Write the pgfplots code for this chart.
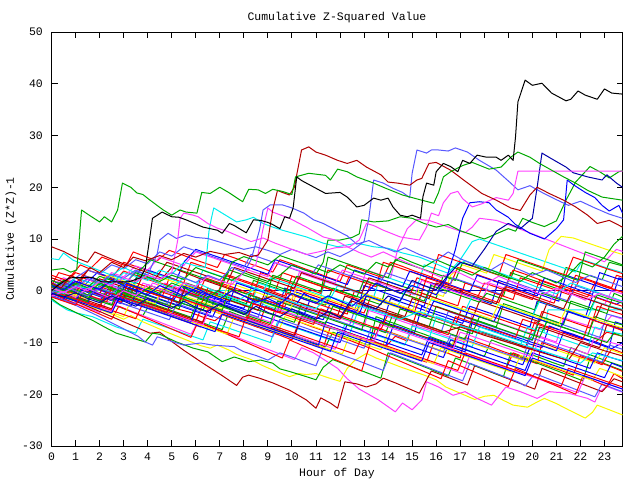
\documentclass[border=0pt]{standalone}
\usepackage{pgfplots}
\pgfplotsset{compat=1.18}
\usepackage{fontspec}
\setmainfont{Liberation Mono}
\definecolor{cR}{HTML}{FF0000}
\definecolor{cG}{HTML}{00A800}
\definecolor{cB}{HTML}{0000FF}
\definecolor{cDB}{HTML}{0000A8}
\definecolor{cLB}{HTML}{5858FF}
\definecolor{cM}{HTML}{FF40FF}
\definecolor{cC}{HTML}{00EEEE}
\definecolor{cY}{HTML}{F8F800}
\definecolor{cDR}{HTML}{B00000}
\begin{document}
\fontsize{11.5}{13}\selectfont
\begin{tikzpicture}
\path[use as bounding box] (-51.5bp,-34bp) rectangle (588.5bp,446bp);
\begin{axis}[
  at={(0,0)}, anchor=south west,
  width=571bp, height=414bp, scale only axis,
  xmin=0, xmax=23.75, ymin=-30, ymax=50,
  xtick={0,...,23}, ytick={-30,-20,...,50},
  tick align=inside, major tick length=6bp,
  tick style={black, line width=0.9bp},
  axis line style={black, line width=0.9bp},
  /pgf/number format/assume math mode=true,
  tick label style={font=\fontsize{11.5}{13}\selectfont},
  label style={font=\fontsize{11.5}{13}\selectfont},
  title style={font=\fontsize{11.5}{13}\selectfont, at={(axis description cs:0.5,1.0133)}, anchor=base},
  xticklabel style={anchor=base, yshift=-15bp},
  yticklabel style={anchor=east, inner sep=0pt, xshift=-8.5bp},
  xlabel style={at={(axis description cs:0.5,-0.0725)}, anchor=base},
  ylabel style={at={(axis description cs:-0.0657,0.5)}, anchor=base},
  title={Cumulative Z-Squared Value},
  xlabel={Hour of Day},
  ylabel={Cumulative (Z*Z)-1},
  every axis plot/.append style={line width=1bp, line join=round},
]
% flat lines
\addplot[cDB] coordinates {(0,0)(23.75,0)};
\addplot[cC] coordinates {(0,0)(7.5,0)};
% ---------- bundle ----------
\addplot[cR] coordinates {(0,0)(0.5,-0.8)(1,-1.4)(1.5,-2.3)(2,-2.9)(2.5,-3.8)(2.8,0.5)(3.3,-0.4)(3.8,-1.1)(4.3,-2)(4.8,-2.7)(5.3,-3.6)(5.8,-4.2)(6.3,-5.1)(6.8,-5.8)(7.1,-4.6)(7.6,-5.5)(8.1,-6.2)(8.6,-7.1)(8.9,-3)(9.4,-3.9)(9.9,-4.5)(10.4,-5.4)(10.9,-6.1)(11.4,-7)(11.9,-7.6)(12.4,-8.5)(12.9,-9.2)(13.4,-10.1)(13.9,-10.8)(14.3,-8.8)(14.8,-9.7)(15.2,-4)(15.7,-4.9)(16.2,-5.5)(16.7,-6.4)(17.2,-7.1)(17.7,-8)(18.2,-8.6)(18.7,-9.5)(19.2,-10.2)(19.7,-11.1)(20.1,-6)(20.6,-6.9)(21.1,-7.5)(21.6,-8.4)(22.1,-9.1)(22.6,-10)(23.1,-8)(23.75,-8.8)};
\addplot[cB] coordinates {(0,0.5)(0.4,-0.2)(0.8,1.5)(1.3,0.7)(1.8,-0.1)(2.3,2.6)(2.8,1.8)(3.3,0.9)(3.8,0.2)(4.3,-0.7)(4.8,-1.5)(5.3,-2.4)(5.5,0.6)(6,-0.2)(6.5,-1.1)(7,-1.8)(7.5,-2.7)(8,-3.4)(8.3,-0.8)(8.8,-1.7)(9.3,-2.4)(9.8,-3.3)(10.3,-4)(10.8,-4.9)(11.3,-5.6)(11.6,-2.4)(12.1,-3.3)(12.6,-4)(13.1,-4.9)(13.6,-5.6)(14.1,-6.5)(14.6,-7.2)(15.1,-8.1)(15.4,-3)(15.9,-3.9)(16.4,-4.6)(16.9,-5.5)(17.4,-6.2)(17.9,-7.1)(18.4,-7.8)(18.9,-8.7)(19.4,-9.4)(19.9,-10.3)(20.4,-11)(20.7,-6.8)(21.2,-7.7)(21.7,-8.4)(22.2,-9.3)(22.7,-10)(23.2,-10.9)(23.45,-6)(23.75,-6.5)};
\addplot[cG] coordinates {(0,-0.5)(0.5,-1.3)(1,-2)(1.3,-0.5)(1.8,-1.4)(2.3,-2.3)(2.8,-3.1)(3.3,-4)(3.8,-4.8)(4.1,-2.5)(4.6,-3.4)(5.1,-4.2)(5.6,-5)(6.1,-5.9)(6.6,-6.7)(7.1,-7.5)(7.4,-4)(7.9,-4.9)(8.4,-5.7)(8.9,-6.6)(9.4,-7.4)(9.9,-8.3)(10.4,-9.1)(10.9,-10)(11.4,-10.8)(11.7,-8)(12.2,-8.9)(12.7,-9.7)(13.2,-10.6)(13.5,-5)(14,-5.9)(14.5,-6.7)(15,-7.6)(15.5,-8.4)(16,-9.3)(16.5,-10.1)(17,-11)(17.5,-11.8)(18,-12.7)(18.3,-9.5)(18.8,-10.4)(19.3,-11.2)(19.8,-12.1)(20.3,-12.9)(20.8,-13.8)(21.3,-14.6)(21.6,-11)(22.1,-11.9)(22.6,-12.7)(23.1,-13.6)(23.75,-14.6)};
\addplot[cR] coordinates {(0,-1)(0.5,-1.8)(1,-2.6)(1.2,1.5)(1.7,0.7)(2.2,-0.2)(2.7,-1)(3.2,-1.9)(3.7,-2.7)(4.2,-3.6)(4.7,-4.4)(5.2,-5.3)(5.7,-6.1)(6.2,-7)(6.5,-3.5)(7,-4.4)(7.5,-5.2)(8,-6.1)(8.5,-6.9)(9,-7.8)(9.5,-8.6)(10,-9.5)(10.3,-6)(10.8,-6.9)(11.3,-7.7)(11.8,-8.6)(12.3,-9.4)(12.8,-10.3)(13.2,-11)(13.5,-7)(14,-7.9)(14.5,-8.7)(15,-9.6)(15.5,-10.4)(16,-11.3)(16.5,-12.1)(17,-13)(17.2,-9)(17.7,-9.9)(18.2,-10.7)(18.7,-11.6)(19.2,-12.4)(19.7,-13.3)(20.2,-14.1)(20.4,-10)(20.9,-10.9)(21.4,-11.7)(21.9,-12.6)(22.4,-13.4)(22.9,-14.3)(23.3,-11.2)(23.75,-12)};
\addplot[cM] coordinates {(0,0.3)(0.5,-0.5)(1,-1.2)(1.5,-2)(1.8,1.2)(2.3,0.4)(2.8,-0.3)(3.3,-1.1)(3.8,-1.9)(4.2,1.5)(4.7,0.7)(5.2,0)(5.7,-0.8)(6.2,-1.6)(6.7,-2.3)(7.2,-3.1)(7.7,-3.9)(8.2,-4.6)(8.7,-5.4)(9.2,-6.2)(9.5,-1.5)(10,-2.3)(10.5,-3)(11,-3.8)(11.5,-4.6)(12,-5.3)(12.5,-6.1)(13,-6.9)(13.2,-3.8)(13.7,-4.6)(14.2,-5.3)(14.7,-6.1)(15.2,-6.9)(15.7,-7.6)(16.2,-8.4)(16.7,-9.2)(17.2,-9.9)(17.5,-4.5)(18,-5.3)(18.5,-6)(19,-6.8)(19.5,-7.6)(20,-8.3)(20.5,-9.1)(21,-9.9)(21.3,-5.2)(21.8,-6)(22.3,-6.7)(22.8,-7.5)(23.3,-4.8)(23.75,-5.5)};
\addplot[cC] coordinates {(0,-1.8)(0.65,-3.7)(1.05,-4.3)(1.7,-5)(2.2,-6)(2.7,-7)(3.1,-7.6)(3.5,-8.2)(3.8,-5.5)(4.3,-6.3)(4.8,-7.1)(5.3,-7.9)(5.8,-8.7)(6.3,-9.5)(6.6,-6)(7.1,-6.8)(7.6,-7.6)(8.1,-8.4)(8.6,-9.2)(9.1,-10)(9.4,-6)(9.9,-6.8)(10.4,-7.6)(10.9,-8.4)(11.4,-9.2)(11.9,-10)(12.2,-6.5)(12.7,-7.3)(13.2,-8.1)(13.7,-8.9)(14.2,-9.7)(14.7,-10.5)(15,-6.8)(15.5,-7.6)(16,-8.4)(16.5,-9.2)(17,-10)(17.5,-10.8)(17.8,-7)(18.3,-7.8)(18.8,-8.6)(19.3,-9.4)(19.8,-10.2)(20.2,-7)(20.5,-7.8)(20.65,-3.7)(23.75,-3.7)};
\addplot[cY] coordinates {(0,0)(0.5,-1)(1,-2)(1.5,-3)(2,-3.6)(2.5,-4.5)(3,-5.5)(3.3,-4.8)(3.8,-6)(4.3,-7)(4.8,-8)(5.5,-9.3)(6.2,-10.6)(6.6,-11.1)(6.9,-10.5)(7.4,-11.5)(7.7,-12.3)(8.3,-13.3)(8.8,-14.5)(9.2,-15.3)(9.9,-16.6)(10.3,-16)(10.6,-16.2)(11,-16)(11.5,-16.8)(12,-17.5)(12.3,-15)(12.6,-13.5)(13.1,-12.1)(13.5,-13)(14,-13.8)(14.5,-14.7)(15,-15.5)(15.5,-16.3)(16,-17.2)(16.4,-18.6)(17,-19.8)(17.6,-21)(18,-20.4)(18.4,-20.2)(18.8,-21.2)(19.2,-22.1)(19.8,-22.5)(20.2,-21.5)(20.5,-20.8)(21,-21.8)(21.5,-23)(22.2,-24.6)(22.5,-23.5)(22.7,-22.1)(23.2,-23)(23.75,-24)};
\addplot[cM] coordinates {(0,-0.5)(0.5,-1.5)(1,-2.4)(1.5,-3.3)(2,-4.2)(2.3,-2)(2.8,-3)(3.3,-3.9)(3.8,-4.8)(4.3,-5.7)(4.8,-6.6)(5.3,-7.5)(5.8,-8.4)(6.1,-6)(6.6,-7)(7.1,-7.9)(7.6,-8.8)(8.1,-9.7)(8.6,-10.6)(9.1,-11.5)(9.6,-12.4)(10.1,-13.3)(10.4,-11)(10.9,-12)(11.4,-13.5)(11.9,-15)(12.3,-17)(12.8,-19)(13.6,-21.1)(14.3,-23.4)(14.6,-21.7)(15,-23)(15.4,-21.1)(15.6,-17.6)(16.1,-18.6)(16.7,-20.2)(17.2,-19.5)(17.7,-20.8)(18.3,-22.1)(18.9,-18.6)(19.5,-19.5)(20.2,-20.8)(20.7,-19.5)(21.5,-19.8)(22.3,-20.8)(22.6,-21.5)(22.8,-19.5)(23.1,-18.5)(23.5,-19.2)(23.75,-19.6)};
\addplot[cDR] coordinates {(0,0)(0.5,-1)(1,-2)(1.5,-3)(2,-4)(2.5,-5)(3,-6)(3.5,-7)(4.1,-8.2)(4.5,-8)(5,-9.8)(5.5,-11.5)(6.3,-14)(7.1,-16.4)(7.7,-18.3)(7.95,-16.7)(8.2,-16.3)(8.65,-16.9)(9.2,-17.8)(9.9,-19.2)(10.6,-21.1)(11,-22.7)(11.2,-20.7)(11.6,-21.7)(11.9,-22.7)(12.2,-17.6)(12.7,-18)(13.1,-18.6)(13.5,-18)(13.8,-16.9)(14.3,-17.8)(14.8,-18.8)(15.3,-19.8)(15.8,-15.5)(16.3,-16.4)(16.8,-17.3)(17.3,-18.2)(17.6,-14.5)(18.1,-15.4)(18.6,-16.3)(19.1,-17.2)(19.6,-18.1)(20.1,-19)(20.4,-15)(20.9,-15.9)(21.4,-16.8)(21.9,-17.7)(22.4,-18.6)(22.9,-19.5)(23.4,-17)(23.75,-17.6)};
\addplot[cG] coordinates {(0,-1.5)(0.35,-2.7)(1.05,-4.3)(1.7,-5.7)(2.2,-7)(2.7,-8.2)(3.4,-9.2)(3.9,-9.9)(4.2,-8.2)(4.5,-8.4)(5.2,-9.9)(5.9,-11.1)(6.5,-11.8)(7.1,-13.7)(7.6,-12.8)(8.2,-13.7)(8.7,-13.4)(9.2,-14)(9.5,-15.1)(9.9,-15.6)(10.6,-16.6)(11,-17.2)(11.3,-14.8)(11.7,-13.3)(12.2,-14.2)(12.7,-15.1)(13.2,-16)(13.7,-16.9)(14,-12)(14.5,-12.9)(15,-13.8)(15.5,-14.7)(16,-15.6)(16.5,-16.5)(16.8,-13)(17.3,-13.9)(17.8,-14.8)(18.3,-15.7)(18.8,-16.6)(19.1,-12)(19.6,-12.9)(20.1,-13.8)(20.6,-14.7)(21.1,-15.6)(21.6,-16.5)(22.1,-17.4)(22.4,-13)(22.9,-13.9)(23.4,-14.8)(23.75,-15.4)};
\addplot[cLB] coordinates {(0,-0.8)(0.5,-1.8)(1,-2.8)(1.5,-3.9)(2,-5)(2.5,-6.2)(3.1,-7.6)(3.6,-8.8)(3.9,-9.9)(4.2,-10.5)(4.4,-8.9)(4.8,-9.5)(5.5,-10.5)(6.2,-10.1)(6.7,-10.5)(7.6,-10.8)(8,-11.8)(8.5,-12.5)(9,-13.4)(9.5,-12)(10,-12.8)(10.5,-13.7)(11,-14.5)(11.3,-11)(11.8,-11.9)(12.3,-12.8)(12.8,-13.6)(13.3,-14.5)(13.8,-15.4)(14.1,-12)(14.6,-12.9)(15.1,-13.8)(15.6,-14.7)(16.1,-15.6)(16.6,-16.5)(17.1,-17.4)(17.4,-14)(17.9,-14.9)(18.4,-15.8)(18.9,-16.7)(19.4,-17.6)(19.7,-18.4)(20.1,-16)(20.6,-16.9)(21.1,-17.8)(21.6,-18.7)(22.1,-19.6)(22.6,-20.5)(22.9,-18)(23.4,-18.9)(23.75,-19.5)};
\addplot[cR] coordinates {(0,1.5)(0.5,0.7)(1,-0.2)(1.5,-1)(2,0.8)(2.5,0)(3,-0.9)(3.5,-1.7)(4,-2.6)(4.5,-3.4)(5,-4.3)(5.5,-5.1)(6,-6)(6.3,-2.5)(6.8,-3.4)(7.3,-4.2)(7.8,-5.1)(8.3,-5.9)(8.8,-6.8)(9.3,-7.6)(9.8,-8.5)(10.3,-9.3)(10.8,-10.2)(11.3,-11)(11.6,-7)(12.1,-7.9)(12.6,-8.7)(13.1,-9.6)(13.6,-10.4)(14.1,-11.3)(14.6,-12.1)(15.1,-13)(15.6,-13.8)(15.9,-10)(16.4,-10.9)(16.9,-11.7)(17.4,-12.6)(17.9,-13.4)(18.4,-14.3)(18.9,-15.1)(19.2,-12)(19.7,-12.9)(20.2,-13.7)(20.7,-14.6)(21.2,-15.4)(21.7,-16.3)(22,-12.5)(22.5,-13.4)(23,-14.2)(23.5,-15.1)(23.75,-15.6)};
\addplot[cB] coordinates {(0,-0.8)(0.5,0.5)(1,-0.3)(1.5,-1.1)(2,-2)(2.4,0.8)(2.9,0)(3.4,-0.8)(3.9,-1.6)(4.4,-2.4)(4.9,-3.2)(5.2,0.5)(5.7,-0.3)(6.2,-1.1)(6.7,-1.9)(7.2,-2.7)(7.7,-3.5)(8.2,-4.3)(8.5,-1.5)(9,-2.3)(9.5,-3.1)(10,-3.9)(10.5,-4.7)(10.8,-1.2)(11.3,-2)(11.8,-2.8)(12.3,-3.6)(12.8,-4.4)(13.3,-5.2)(13.8,-6)(14.1,-1.5)(14.6,-2.3)(15.1,-3.1)(15.6,-3.9)(16.1,-4.7)(16.6,-5.5)(17.1,-6.3)(17.4,-3)(17.9,-3.8)(18.4,-4.6)(18.9,-5.4)(19.4,-6.2)(19.9,-7)(20.2,-2)(20.7,-2.8)(21.2,-3.6)(21.7,-4.4)(22.2,-5.2)(22.5,-1)(23,-1.8)(23.5,-2.6)(23.75,-2)};
\addplot[cY] coordinates {(0,0.8)(0.5,0)(1,-0.8)(1.5,-1.6)(2,0.5)(2.5,-0.3)(3,-1.1)(3.5,-1.9)(4,-2.7)(4.5,-3.5)(5,-4.3)(5.4,-1.8)(5.9,-2.6)(6.4,-3.4)(6.9,-4.2)(7.4,-5)(7.9,-5.8)(8.4,-6.6)(8.9,-7.4)(9.4,-8.2)(9.7,-5)(10.2,-5.8)(10.7,-6.6)(11.2,-7.4)(11.7,-8.2)(12.2,-9)(12.7,-9.8)(13.2,-10.6)(13.7,-11.4)(14,-8)(14.5,-8.8)(15,-9.6)(15.5,-10.4)(16,-11.2)(16.5,-12)(16.8,-9)(17.3,-9.8)(17.8,-10.6)(18.3,-11.4)(18.8,-12.2)(19.3,-13)(19.8,-13.8)(20.1,-10)(20.6,-10.8)(21.1,-11.6)(21.6,-12.4)(22.1,-13.2)(22.6,-14)(23,-11)(23.5,-11.8)(23.75,-12.2)};
\addplot[cR] coordinates {(0,2)(0.5,1.2)(1,3.5)(1.5,2.7)(2,1.9)(2.5,1.1)(3,3.8)(3.5,3)(4,2.2)(4.5,1.4)(5,0.6)(5.5,-0.2)(6,-1)(6.2,2.5)(6.7,1.7)(7.2,0.9)(7.7,0.1)(8.2,-0.7)(8.7,-1.5)(9.2,-2.3)(9.7,-3.1)(10,0.5)(10.5,-0.3)(11,-1.1)(11.5,-1.9)(12,-2.7)(12.5,-3.5)(13,-4.3)(13.3,-1)(13.8,-1.8)(14.3,-2.6)(14.8,-3.4)(15.3,-4.2)(15.8,-5)(16.3,-5.8)(16.8,-6.6)(17.1,-3)(17.6,-3.8)(18.1,-4.6)(18.6,-5.4)(19.1,-6.2)(19.6,-7)(20.1,-7.8)(20.4,-4)(20.9,-4.8)(21.4,-5.6)(21.9,-6.4)(22.4,-7.2)(22.7,-3)(23.2,-3.8)(23.75,-4.6)};
\addplot[cG] coordinates {(0,-0.3)(0.5,-1.1)(1,0.5)(1.5,-0.3)(2,-1.1)(2.5,-1.9)(2.8,1)(3.3,0.2)(3.8,-0.6)(4.3,-1.4)(4.8,-2.2)(5.3,-3)(5.6,1.5)(6.1,0.7)(6.6,-0.1)(7.1,-0.9)(7.6,-1.7)(8.1,-2.5)(8.4,2)(8.9,1.2)(9.4,0.4)(9.9,-0.4)(10.4,-1.2)(10.9,-2)(11.4,-2.8)(11.7,0.5)(12.2,-0.3)(12.7,-1.1)(13.2,-1.9)(13.7,-2.7)(14,1.8)(14.5,1)(15,0.2)(15.5,-0.6)(16,-1.4)(16.3,3)(16.8,2.2)(17.3,1.4)(17.8,0.6)(18.3,-0.2)(18.8,-1)(19.1,3.5)(19.6,2.7)(20.1,1.9)(20.6,1.1)(21.1,0.3)(21.4,4.5)(21.9,3.7)(22.4,2.9)(22.9,2.1)(23.2,5.5)(23.75,4.8)};
\addplot[cB] coordinates {(0,0)(0.5,-0.8)(1,-1.6)(1.5,-2.4)(2,-3.2)(2.3,-0.5)(2.8,-1.3)(3.3,-2.1)(3.8,-2.9)(4.3,-3.7)(4.8,-4.5)(5.3,-5.3)(5.8,-6.1)(6.1,-2.5)(6.6,-3.3)(7.1,-4.1)(7.6,-4.9)(8.1,-5.7)(8.6,-6.5)(9.1,-7.3)(9.6,-8.1)(10.1,-8.9)(10.4,-5)(10.9,-5.8)(11.4,-6.6)(11.9,-7.4)(12.4,-8.2)(12.9,-9)(13.4,-9.8)(13.9,-10.6)(14.2,-7)(14.7,-7.8)(15.2,-8.6)(15.7,-9.4)(16.2,-10.2)(16.7,-11)(17.2,-11.8)(17.5,-6)(18,-6.8)(18.5,-7.6)(19,-8.4)(19.5,-9.2)(20,-10)(20.5,-10.8)(21,-11.6)(21.3,-8)(21.8,-8.8)(22.3,-9.6)(22.8,-10.4)(23.3,-11.2)(23.75,-10)};
\addplot[cM] coordinates {(0,1)(0.5,2.5)(1,1.7)(1.5,0.9)(2,0.1)(2.5,-0.7)(3,-1.5)(3.5,-2.3)(3.8,1.5)(4.3,0.7)(4.8,-0.1)(5.3,-0.9)(5.8,-1.7)(6.3,-2.5)(6.8,-3.3)(7.3,-4.1)(7.8,-4.9)(8.3,-5.7)(8.8,-6.5)(9.3,-7.3)(9.8,-8.1)(10.3,-8.9)(10.8,-9.7)(11.3,-10.5)(11.8,-11.3)(12.1,-8)(12.6,-8.8)(13.1,-9.6)(13.6,-10.4)(14.1,-11.2)(14.6,-12)(15.1,-12.8)(15.6,-13.6)(16.1,-14.4)(16.6,-15.2)(17.1,-16)(17.4,-12.5)(17.9,-13.3)(18.4,-14.1)(18.9,-14.9)(19.4,-15.7)(19.9,-16.5)(20.4,-17.3)(20.9,-18.1)(21.4,-18.9)(21.9,-19.7)(22.2,-16.5)(22.7,-17.3)(23.2,-18.1)(23.75,-19)};
\addplot[cC] coordinates {(0,0.5)(0.5,-0.3)(1,-1.1)(1.5,-1.9)(1.8,0.8)(2.3,0)(2.8,-0.8)(3.3,-1.6)(3.8,-2.4)(4.3,-3.2)(4.6,0)(5.1,-0.8)(5.6,-1.6)(6.1,-2.4)(6.6,-3.2)(7.1,-4)(7.6,-4.8)(8.1,-5.6)(8.4,-2)(8.9,-2.8)(9.4,-3.6)(9.9,-4.4)(10.4,-5.2)(10.9,-6)(11.4,-6.8)(11.9,-7.6)(12.4,-8.4)(12.7,-4.5)(13.2,-5.3)(13.7,-6.1)(14.2,-6.9)(14.7,-7.7)(15.2,-8.5)(15.7,-9.3)(16,-5)(16.5,-5.8)(17,-6.6)(17.5,-7.4)(18,-8.2)(18.5,-9)(19,-9.8)(19.5,-10.6)(19.8,-7)(20.3,-7.8)(20.8,-8.6)(21.3,-9.4)(21.8,-10.2)(22.3,-11)(22.6,-7)(23.1,-7.8)(23.75,-8.4)};
\addplot[cR] coordinates {(0,-0.5)(0.5,-1.5)(1,-2.5)(1.5,-3.5)(2,-4.5)(2.5,-5.5)(2.8,-3)(3.3,-4)(3.8,-5)(4.3,-6)(4.8,-7)(5.3,-8)(5.8,-9)(6.1,-6)(6.6,-7)(7.1,-8)(7.6,-9)(8.1,-10)(8.6,-11)(9.1,-12)(9.6,-13)(9.9,-9.5)(10.4,-10.5)(10.9,-11.5)(11.4,-12.5)(11.9,-13.5)(12.4,-14.5)(12.9,-15.5)(13.2,-11)(13.7,-12)(14.2,-13)(14.7,-14)(15.2,-15)(15.7,-16)(16.2,-17)(16.5,-13.5)(17,-14.5)(17.5,-15.5)(18,-16.5)(18.5,-17.5)(19,-18.5)(19.3,-15)(19.8,-16)(20.3,-17)(20.8,-18)(21.3,-19)(21.8,-20)(22.1,-16.5)(22.6,-17.5)(23.1,-18.5)(23.4,-16)(23.75,-17)};
\addplot[cB] coordinates {(0,0.3)(0.4,1.5)(0.9,0.7)(1.4,-0.1)(1.9,-0.9)(2.4,-1.7)(2.9,-2.5)(3.2,0.5)(3.7,-0.3)(4.2,-1.1)(4.7,-1.9)(5.2,-2.7)(5.7,-3.5)(6.2,-4.3)(6.7,-5.1)(7,-2)(7.5,-2.8)(8,-3.6)(8.5,-4.4)(9,-5.2)(9.5,-6)(10,-6.8)(10.5,-7.6)(11,-8.4)(11.5,-9.2)(12,-10)(12.3,-6.5)(12.8,-7.3)(13.3,-8.1)(13.8,-8.9)(14.3,-9.7)(14.8,-10.5)(15.3,-11.3)(15.8,-12.1)(16.3,-12.9)(16.6,-9.5)(17.1,-10.3)(17.6,-11.1)(18.1,-11.9)(18.6,-12.7)(19.1,-13.5)(19.6,-14.3)(19.9,-11)(20.4,-11.8)(20.9,-12.6)(21.4,-13.4)(21.9,-14.2)(22.4,-15)(22.7,-12)(23.2,-12.8)(23.75,-13.6)};
\addplot[cLB] coordinates {(0,2)(0.5,1.2)(1,0.4)(1.3,3)(1.8,2.2)(2.3,1.4)(2.8,0.6)(3.3,-0.2)(3.8,-1)(4.3,-1.8)(4.8,-2.6)(5.1,0.5)(5.6,-0.3)(6.1,-1.1)(6.6,-1.9)(7.1,-2.7)(7.6,-3.5)(8.1,-4.3)(8.6,-5.1)(8.9,-1)(9.4,-1.8)(9.9,-2.6)(10.4,-3.4)(10.9,-4.2)(11.4,-5)(11.9,-5.8)(12.4,-6.6)(12.7,-2.5)(13.2,-3.3)(13.7,-4.1)(14.2,-4.9)(14.7,-5.7)(15.2,-6.5)(15.7,-7.3)(16.2,-8.1)(16.5,-4)(17,-4.8)(17.5,-5.6)(18,-6.4)(18.5,-7.2)(19,-8)(19.5,-8.8)(20,-9.6)(20.3,-5)(20.8,-5.8)(21.3,-6.6)(21.8,-7.4)(22.3,-8.2)(22.8,-9)(23.1,-4.5)(23.75,-5.3)};
\addplot[cG] coordinates {(0,0)(0.5,-0.8)(1,-1.6)(1.5,-2.4)(2,-3.2)(2.3,0.5)(2.8,-0.3)(3.3,-1.1)(3.8,-1.9)(4.3,-2.7)(4.8,-3.5)(5.3,-4.3)(5.8,-5.1)(6.1,-1.5)(6.6,-2.3)(7.1,-3.1)(7.6,-3.9)(8.1,-4.7)(8.6,-5.5)(9.1,-6.3)(9.4,-2)(9.9,-2.8)(10.4,-3.6)(10.9,-4.4)(11.4,-5.2)(11.9,-6)(12.4,-6.8)(12.9,-7.6)(13.2,-3)(13.7,-3.8)(14.2,-4.6)(14.7,-5.4)(15.2,-6.2)(15.7,-7)(16,-3)(16.5,-3.8)(17,-4.6)(17.5,-5.4)(18,-6.2)(18.5,-7)(18.8,-2.5)(19.3,-3.3)(19.8,-4.1)(20.3,-4.9)(20.8,-5.7)(21.3,-6.5)(21.6,-2)(22.1,-2.8)(22.6,-3.6)(23.1,-4.4)(23.4,-0.5)(23.75,-1.2)};
\addplot[cR] coordinates {(0,3)(0.5,2.2)(1,1.4)(1.5,4)(2,3.2)(2.5,2.4)(3,5.5)(3.5,4.7)(4,3.9)(4.5,3.1)(5,2.3)(5.5,1.5)(5.8,5.5)(6.3,4.7)(6.8,3.9)(7.3,3.1)(7.8,2.3)(8.3,1.5)(8.8,0.7)(9.3,-0.1)(9.6,3.5)(10.1,2.7)(10.6,1.9)(11.1,1.1)(11.6,0.3)(12.1,-0.5)(12.4,3)(12.9,2.2)(13.4,1.4)(13.9,0.6)(14.4,-0.2)(14.9,-1)(15.2,2.5)(15.7,1.7)(16.2,0.9)(16.7,0.1)(17.2,-0.7)(17.7,-1.5)(18,1.5)(18.5,0.7)(19,-0.1)(19.5,-0.9)(20,-1.7)(20.3,2)(20.8,1.2)(21.3,0.4)(21.8,-0.4)(22.3,-1.2)(22.6,1.5)(23.1,0.7)(23.75,-0.2)};
\addplot[cDR] coordinates {(0,0.5)(0.5,-0.3)(1,-1.1)(1.5,-1.9)(2,-2.7)(2.5,-3.5)(2.8,-0.5)(3.3,-1.3)(3.8,-2.1)(4.3,-2.9)(4.8,-3.7)(5.3,-4.5)(5.8,-5.3)(6.3,-6.1)(6.6,-3)(7.1,-3.8)(7.6,-4.6)(8.1,-5.4)(8.6,-6.2)(9.1,-7)(9.6,-7.8)(10.1,-8.6)(10.4,-5)(10.9,-5.8)(11.4,-6.6)(11.9,-7.4)(12.4,-8.2)(12.9,-9)(13.4,-9.8)(13.7,-6)(14.2,-6.8)(14.7,-7.6)(15.2,-8.4)(15.7,-9.2)(16.2,-10)(16.7,-10.8)(17,-6.5)(17.5,-7.3)(18,-8.1)(18.5,-8.9)(19,-9.7)(19.5,-10.5)(20,-11.3)(20.3,-7)(20.8,-7.8)(21.3,-8.6)(21.8,-9.4)(22.3,-10.2)(22.8,-11)(23.1,-6.5)(23.75,-7.3)};
\addplot[cB] coordinates {(0,-1)(0.5,-1.8)(0.8,1)(1.3,0.2)(1.8,-0.6)(2.3,-1.4)(2.8,-2.2)(3.3,-3)(3.6,0.5)(4.1,-0.3)(4.6,-1.1)(5.1,-1.9)(5.6,-2.7)(6.1,-3.5)(6.6,-4.3)(6.9,0)(7.4,-0.8)(7.9,-1.6)(8.4,-2.4)(8.9,-3.2)(9.4,-4)(9.7,0.5)(10.2,-0.3)(10.7,-1.1)(11.2,-1.9)(11.7,-2.7)(12.2,-3.5)(12.7,-4.3)(13,1)(13.5,0.2)(14,-0.6)(14.5,-1.4)(15,-2.2)(15.5,-3)(15.8,1.5)(16.3,0.7)(16.8,-0.1)(17.3,-0.9)(17.8,-1.7)(18.3,-2.5)(18.6,2)(19.1,1.2)(19.6,0.4)(20.1,-0.4)(20.6,-1.2)(21.1,-2)(21.4,3)(21.9,2.2)(22.4,1.4)(22.9,0.6)(23.4,-0.2)(23.6,2.5)(23.75,2.2)};
\addplot[cY] coordinates {(0,-0.2)(0.5,-1)(1,-1.8)(1.5,-2.6)(2,-3.4)(2.5,-4.2)(3,-5)(3.3,-2)(3.8,-2.8)(4.3,-3.6)(4.8,-4.4)(5.3,-5.2)(5.8,-6)(6.3,-6.8)(6.8,-7.6)(7.3,-8.4)(7.6,-5)(8.1,-5.8)(8.6,-6.6)(9.1,-7.4)(9.6,-8.2)(10.1,-9)(10.6,-9.8)(11.1,-10.6)(11.6,-11.4)(12.1,-12.2)(12.4,-8.5)(12.9,-9.3)(13.4,-10.1)(13.9,-10.9)(14.4,-11.7)(14.9,-12.5)(15.4,-13.3)(15.9,-14.1)(16.2,-11)(16.7,-11.8)(17.2,-12.6)(17.7,-13.4)(18.2,-14.2)(18.7,-15)(19.2,-15.8)(19.5,-12.5)(20,-13.3)(20.5,-14.1)(21,-14.9)(21.5,-15.7)(22,-16.5)(22.5,-17.3)(22.8,-15)(23.3,-15.8)(23.75,-16.6)};
\addplot[cM] coordinates {(0,-0.5)(0.5,0.8)(1,0)(1.5,-0.8)(2,-1.6)(2.4,1)(2.9,0.2)(3.4,-0.6)(3.9,-1.4)(4.4,-2.2)(4.7,1.5)(5.2,0.7)(5.7,-0.1)(6.2,-0.9)(6.7,-1.7)(7.2,-2.5)(7.5,2)(8,1.2)(8.5,0.4)(9,-0.4)(9.5,-1.2)(10,-2)(10.3,3.5)(10.8,2.7)(11.3,1.9)(11.8,1.1)(12.3,0.3)(12.8,-0.5)(13.1,4)(13.6,3.2)(14.1,2.4)(14.4,8)(14.8,12)(15.2,13.8)(15.7,13.6)(16.2,12.8)(16.7,12)(17.2,11.2)(17.5,12.3)(17.8,14)(18.5,13.6)(19,12.8)(19.5,11.9)(20,11)(20.5,10.1)(21,9.2)(21.5,8.3)(22,7.4)(22.5,6.5)(23,5.6)(23.5,8)(23.75,7.6)};
\addplot[cLB] coordinates {(0,-1)(0.5,-1.8)(1,-2.6)(1.4,0)(1.9,-0.8)(2.4,-1.6)(2.9,-2.4)(3.4,-3.2)(3.9,-4)(4.4,-4.8)(4.9,-5.6)(5.2,-2.5)(5.7,-3.3)(6.2,-4.1)(6.7,-4.9)(7.2,-5.7)(7.7,-6.5)(8.2,-7.3)(8.7,-8.1)(9.2,-8.9)(9.5,-5.5)(10,-6.3)(10.5,-7.1)(11,-7.9)(11.5,-8.7)(12,-9.5)(12.5,-10.3)(13,-11.1)(13.3,-7)(13.8,-7.8)(14.3,-8.6)(14.8,-9.4)(15.3,-10.2)(15.8,-11)(16.3,-11.8)(16.6,-8.5)(17.1,-9.3)(17.6,-10.1)(18.1,-10.9)(18.6,-11.7)(19.1,-12.5)(19.6,-13.3)(19.9,-9)(20.4,-9.8)(20.9,-10.6)(21.4,-11.4)(21.9,-12.2)(22.4,-13)(22.9,-13.8)(23.2,-10.5)(23.75,-11.3)};
\addplot[cR] coordinates {(0,0.2)(0.5,-0.6)(1,-1.4)(1.5,-2.2)(2,-3)(2.5,-3.8)(3,-4.6)(3.5,-5.4)(3.8,-2.5)(4.3,-3.3)(4.8,-4.1)(5.3,-4.9)(5.8,-5.7)(6.3,-6.5)(6.8,-7.3)(7.3,-8.1)(7.8,-8.9)(8.1,-5)(8.6,-5.8)(9.1,-6.6)(9.6,-7.4)(10.1,-8.2)(10.6,-9)(11.1,-9.8)(11.6,-10.6)(12.1,-11.4)(12.6,-12.2)(12.9,-9)(13.4,-9.8)(13.9,-10.6)(14.4,-11.4)(14.9,-12.2)(15.4,-13)(15.9,-13.8)(16.4,-14.6)(16.9,-15.4)(17.2,-12)(17.7,-12.8)(18.2,-13.6)(18.7,-14.4)(19.2,-15.2)(19.7,-16)(20.2,-16.8)(20.7,-17.6)(21.2,-18.4)(21.5,-15)(22,-15.8)(22.5,-16.6)(23,-17.4)(23.5,-18.2)(23.75,-18.6)};
\addplot[cC] coordinates {(0,0)(0.5,-0.8)(1,1)(1.5,0.2)(2,-0.6)(2.5,-1.4)(3,1.5)(3.5,0.7)(4,-0.1)(4.5,-0.9)(5,-1.7)(5.5,-2.5)(5.8,1)(6.3,0.2)(6.8,-0.6)(7.3,-1.4)(7.8,-2.2)(8.3,-3)(8.6,1.5)(9.1,0.7)(9.6,-0.1)(10.1,-0.9)(10.6,-1.7)(11.1,-2.5)(11.4,2)(11.9,1.2)(12.4,0.4)(12.9,-0.4)(13.4,-1.2)(13.7,3)(14.2,2.2)(14.7,1.4)(15.2,0.6)(15.5,5)(16,4.2)(16.5,3.4)(17,6)(17.5,9.5)(17.8,10)(18.3,9.2)(18.8,8.4)(19.3,7.6)(19.8,6.8)(20.3,6)(20.8,5.2)(21.3,4.4)(21.8,3.6)(22.1,6)(22.6,5.2)(23.1,4.4)(23.75,3.5)};
\addplot[cY] coordinates {(0,1)(0.5,0.2)(1,-0.6)(1.5,-1.4)(1.8,1.5)(2.3,0.7)(2.8,-0.1)(3.3,-0.9)(3.8,-1.7)(4.3,-2.5)(4.6,0.5)(5.1,-0.3)(5.6,-1.1)(6.1,-1.9)(6.6,-2.7)(7.1,-3.5)(7.4,0)(7.9,-0.8)(8.4,-1.6)(8.9,-2.4)(9.4,-3.2)(9.9,-4)(10.2,-0.5)(10.7,-1.3)(11.2,-2.1)(11.7,-2.9)(12.2,-3.7)(12.7,-4.5)(13,-1)(13.5,-1.8)(14,-2.6)(14.5,-3.4)(15,-4.2)(15.3,0.5)(15.8,-0.3)(16.3,-1.1)(16.6,3)(17.1,5)(17.6,4.2)(18.1,3.4)(18.4,7)(18.9,6.2)(19.4,5.4)(19.9,4.6)(20.4,3.8)(20.7,8)(21.2,10.5)(21.7,10.2)(22.2,9.4)(22.7,8.6)(23.2,7.8)(23.75,7)};
\addplot[cB] coordinates {(0,0)(0.5,-0.8)(1,-1.6)(1.5,-2.4)(1.8,0.5)(2.3,-0.3)(2.8,-1.1)(3.3,-1.9)(3.8,-2.7)(4.3,-3.5)(4.8,-4.3)(5.3,-5.1)(5.8,-5.9)(6.1,-2.5)(6.6,-3.3)(7.1,-4.1)(7.6,-4.9)(8.1,-5.7)(8.6,-6.5)(9.1,-7.3)(9.6,-8.1)(10.1,-8.9)(10.6,-9.7)(11.1,-10.5)(11.4,-6)(11.9,-6.8)(12.4,-7.6)(12.9,-8.4)(13.4,-9.2)(13.9,-10)(14.4,-10.8)(14.9,-11.6)(15.4,-12.4)(15.7,-9)(16.2,-9.8)(16.7,-10.6)(17.2,-11.4)(17.7,-12.2)(18.2,-13)(18.7,-13.8)(19.2,-14.6)(19.7,-15.4)(20,-12)(20.5,-12.8)(21,-13.6)(21.5,-14.4)(22,-15.2)(22.5,-16)(23,-16.8)(23.3,-14)(23.75,-14.8)};
\addplot[cR] coordinates {(0,-0.5)(0.5,-1.3)(0.9,1)(1.4,0.2)(1.9,-0.6)(2.4,-1.4)(2.9,-2.2)(3.2,2)(3.7,1.2)(4.2,0.4)(4.7,-0.4)(5.2,-1.2)(5.7,-2)(6.2,-2.8)(6.5,0.5)(7,-0.3)(7.5,-1.1)(8,-1.9)(8.5,-2.7)(9,-3.5)(9.5,-4.3)(9.8,-0.5)(10.3,-1.3)(10.8,-2.1)(11.3,-2.9)(11.8,-3.7)(12.3,-4.5)(12.6,0)(13.1,-0.8)(13.6,-1.6)(14.1,-2.4)(14.6,-3.2)(15.1,-4)(15.4,-0.5)(15.9,-1.3)(16.4,-2.1)(16.9,-2.9)(17.2,1.5)(17.7,0.7)(18.2,-0.1)(18.7,-0.9)(19.2,-1.7)(19.5,2.5)(20,1.7)(20.5,0.9)(21,0.1)(21.5,-0.7)(21.8,3)(22.3,2.2)(22.8,1.4)(23.3,0.6)(23.5,3)(23.75,2.6)};
\addplot[cG] coordinates {(0,0.5)(0.5,2)(1,1.2)(1.5,0.4)(2,-0.4)(2.5,-1.2)(3,-2)(3.3,1)(3.8,0.2)(4.3,-0.6)(4.8,-1.4)(5.3,-2.2)(5.8,-3)(6.3,-3.8)(6.6,-0.5)(7.1,-1.3)(7.6,-2.1)(8.1,-2.9)(8.6,-3.7)(9.1,-4.5)(9.6,-5.3)(10.1,-6.1)(10.4,-2.5)(10.9,-3.3)(11.4,-4.1)(11.9,-4.9)(12.4,-5.7)(12.9,-6.5)(13.4,-7.3)(13.9,-8.1)(14.2,-4.5)(14.7,-5.3)(15.2,-6.1)(15.7,-6.9)(16.2,-7.7)(16.7,-8.5)(17.2,-9.3)(17.5,-5.5)(18,-6.3)(18.5,-7.1)(19,-7.9)(19.5,-8.7)(20,-9.5)(20.3,-5.5)(20.8,-6.3)(21.3,-7.1)(21.8,-7.9)(22.3,-8.7)(22.6,-5)(23.1,-5.8)(23.75,-6.6)};
\addplot[cM] coordinates {(0,0)(0.5,-0.8)(1,-1.6)(1.5,-2.4)(2,-3.2)(2.5,-4)(2.8,-1)(3.3,-1.8)(3.8,-2.6)(4.3,-3.4)(4.8,-4.2)(5.3,-5)(5.8,-5.8)(6.3,-6.6)(6.6,-3)(7.1,-3.8)(7.6,-4.6)(8.1,-5.4)(8.6,-6.2)(9.1,-7)(9.4,-3.5)(9.9,-4.3)(10.4,-5.1)(10.9,-5.9)(11.4,-6.7)(11.9,-7.5)(12.4,-8.3)(12.9,-9.1)(13.4,-9.9)(13.7,-6.5)(14.2,-7.3)(14.7,-8.1)(15.2,-8.9)(15.7,-9.7)(16.2,-10.5)(16.7,-11.3)(17,-8)(17.5,-8.8)(18,-9.6)(18.5,-10.4)(19,-11.2)(19.5,-12)(20,-12.8)(20.3,-9)(20.8,-9.8)(21.3,-10.6)(21.8,-11.4)(22.3,-12.2)(22.6,-9)(23.1,-9.8)(23.75,-10.6)};
\addplot[cR] coordinates {(0,1)(0.5,0.2)(1,-0.6)(1.3,2.5)(1.8,1.7)(2.3,0.9)(2.8,0.1)(3.3,-0.7)(3.6,3)(4.1,2.2)(4.6,1.4)(5.1,0.6)(5.6,-0.2)(6.1,-1)(6.4,2.5)(6.9,1.7)(7.4,0.9)(7.9,0.1)(8.4,-0.7)(8.7,3.5)(9.2,2.7)(9.7,1.9)(10.2,1.1)(10.7,0.3)(11.2,-0.5)(11.5,4)(12,3.2)(12.5,2.4)(13,1.6)(13.5,0.8)(13.8,5.5)(14.3,4.7)(14.8,3.9)(15.3,3.1)(15.8,2.3)(16.1,7)(16.6,6.2)(17.1,5.4)(17.6,4.6)(18.1,3.8)(18.6,3)(18.9,7)(19.4,6.2)(19.9,5.4)(20.4,4.6)(20.9,3.8)(21.4,3)(21.7,6.5)(22.2,5.7)(22.7,4.9)(23.2,4.1)(23.75,3.3)};
\addplot[cB] coordinates {(0,-0.3)(0.5,-1.1)(1,-1.9)(1.5,-2.7)(2,-3.5)(2.5,-4.3)(2.8,-1.5)(3.3,-2.3)(3.8,-3.1)(4.3,-3.9)(4.8,-4.7)(5.3,-5.5)(5.8,-6.3)(6.3,-7.1)(6.8,-7.9)(7.1,-4.5)(7.6,-5.3)(8.1,-6.1)(8.6,-6.9)(9.1,-7.7)(9.6,-8.5)(10.1,-9.3)(10.6,-10.1)(11.1,-10.9)(11.6,-11.7)(11.9,-8)(12.4,-8.8)(12.9,-9.6)(13.4,-10.4)(13.9,-11.2)(14.4,-12)(14.9,-12.8)(15.4,-13.6)(15.7,-10)(16.2,-10.8)(16.7,-11.6)(17.2,-12.4)(17.7,-13.2)(18.2,-14)(18.7,-14.8)(19.2,-15.6)(19.7,-16.4)(20,-13)(20.5,-13.8)(21,-14.6)(21.5,-15.4)(22,-16.2)(22.5,-17)(23,-17.8)(23.5,-18.6)(23.75,-19)};
\addplot[cG] coordinates {(0,-0.2)(0.5,-1)(1,-1.8)(1.3,1.5)(1.8,0.7)(2.3,-0.1)(2.8,-0.9)(3.3,-1.7)(3.8,-2.5)(4.1,1)(4.6,0.2)(5.1,-0.6)(5.6,-1.4)(6.1,-2.2)(6.6,-3)(7.1,-3.8)(7.4,0.5)(7.9,-0.3)(8.4,-1.1)(8.9,-1.9)(9.2,3)(9.7,2.2)(10.2,1.4)(10.7,0.6)(11.2,-0.2)(11.5,6.5)(12,5.7)(12.5,4.9)(13,4.1)(13.5,3.3)(14,2.5)(14.3,6)(14.8,5.2)(15.3,4.4)(15.8,3.6)(16.3,2.8)(16.8,2)(17.1,5.5)(17.6,4.7)(18.1,3.9)(18.6,3.1)(19.1,2.3)(19.4,6)(19.9,5.2)(20.4,4.4)(20.9,3.6)(21.4,2.8)(21.9,2)(22.2,7.5)(22.7,6.7)(23.2,5.9)(23.75,5)};
\addplot[cDR] coordinates {(0,2.5)(0.5,1.7)(1,0.9)(1.5,0.1)(2,-0.7)(2.3,2.5)(2.8,1.7)(3.3,0.9)(3.8,0.1)(4.3,-0.7)(4.8,-1.5)(5.3,-2.3)(5.6,1)(6.1,0.2)(6.6,-0.6)(7.1,-1.4)(7.6,-2.2)(8.1,-3)(8.6,-3.8)(8.9,0)(9.4,-0.8)(9.9,-1.6)(10.4,-2.4)(10.9,-3.2)(11.4,-4)(11.9,-4.8)(12.2,-1)(12.7,-1.8)(13.2,-2.6)(13.7,-3.4)(14.2,-4.2)(14.7,-5)(15,-1.5)(15.5,-2.3)(16,-3.1)(16.5,-3.9)(17,-4.7)(17.5,-5.5)(17.8,-2)(18.3,-2.8)(18.8,-3.6)(19.3,-4.4)(19.8,-5.2)(20.3,-6)(20.6,-2.5)(21.1,-3.3)(21.6,-4.1)(22.1,-4.9)(22.6,-5.7)(22.9,-2.5)(23.4,-3.3)(23.75,-3.7)};
% extra bundle lines
\addplot[cR] coordinates {(0,1)(0.3,3.5)(0.8,2.8)(1.2,5)(1.6,4.2)(2.1,6.5)(2.6,5.6)(3.1,4.8)(3.4,7.5)(3.9,6.6)(4.4,5.8)(4.9,7.8)(5.4,7)(5.9,6.1)(6.4,5.3)(6.9,4.5)(7.2,7)(7.7,6.2)(8.2,5.3)(8.7,4.5)(9.2,3.6)(9.5,6)(10,5.2)(10.5,4.3)(11,3.5)(11.5,2.6)(12,1.8)(12.3,5)(12.8,4.2)(13.3,3.3)(13.8,2.5)(14.1,5.5)(14.6,4.7)(15.1,3.8)(15.6,3)(16.1,2.1)(16.6,1.3)(16.9,4.5)(17.4,3.7)(17.9,2.8)(18.4,2)(18.9,1.1)(19.2,4)(19.7,3.2)(20.2,2.3)(20.7,1.5)(21.2,0.6)(21.7,-0.2)(22,2.5)(22.5,1.7)(23,0.8)(23.75,-0.3)};
\addplot[cB] coordinates {(0,0)(0.5,-0.6)(0.9,2)(1.4,1.2)(1.9,3.5)(2.4,2.7)(2.9,1.9)(3.4,1.1)(3.7,4.5)(4.2,3.7)(4.7,2.9)(5.2,2.1)(5.5,5.5)(6,8)(6.5,7.2)(7,6.4)(7.5,5.6)(8,4.8)(8.5,4)(9,3.2)(9.3,6)(9.8,5.2)(10.3,4.4)(10.8,3.6)(11.3,2.8)(11.8,2)(12.3,1.2)(12.6,4)(13.1,3.2)(13.6,2.4)(14.1,1.6)(14.6,0.8)(14.9,3.8)(15.4,3)(15.9,2.2)(16.4,1.4)(16.9,0.6)(17.4,-0.2)(17.7,3)(18.2,2.2)(18.7,1.4)(19.2,0.6)(19.7,-0.2)(20.2,-1)(20.5,2.5)(21,1.7)(21.5,0.9)(22,0.1)(22.5,-0.7)(22.8,3.5)(23.3,2.7)(23.75,2)};
\addplot[cLB] coordinates {(0,1.5)(0.5,0.8)(1,2.5)(1.5,4)(2,3.2)(2.5,5)(3,4.2)(3.5,6)(4,5.2)(4.5,7.5)(5,6.7)(5.5,8.5)(6,7.7)(6.5,6.9)(7,6.1)(7.5,5.3)(8,4.5)(8.3,7)(8.8,6.2)(9.3,5.4)(9.8,4.6)(10.3,3.8)(10.8,3)(11.1,5)(11.6,4.2)(12.1,3.4)(12.6,2.6)(13.1,1.8)(13.6,1)(13.9,3.5)(14.4,2.7)(14.9,1.9)(15.4,1.1)(15.9,0.3)(16.4,-0.5)(16.7,2.5)(17.2,1.7)(17.7,0.9)(18.2,0.1)(18.7,-0.7)(19,2)(19.5,1.2)(20,0.4)(20.5,-0.4)(21,-1.2)(21.5,-2)(21.8,1)(22.3,0.2)(22.8,-0.6)(23.3,-1.4)(23.75,-2.1)};
\addplot[cM] coordinates {(0,-0.3)(0.5,1)(1,0.2)(1.5,2.2)(2,1.4)(2.5,3.5)(3,2.7)(3.5,4.8)(4,4)(4.5,6.5)(5,5.7)(5.5,4.9)(6,7.5)(6.5,6.7)(7,5.9)(7.5,5.1)(8,4.3)(8.5,3.5)(9,2.7)(9.3,5.5)(9.8,4.7)(10.3,3.9)(10.8,3.1)(11.3,2.3)(11.8,1.5)(12.1,4)(12.6,3.2)(13.1,2.4)(13.6,1.6)(14.1,0.8)(14.6,0)(15.1,-0.8)(15.4,2)(15.9,1.2)(16.4,0.4)(16.9,-0.4)(17.4,-1.2)(17.9,-2)(18.2,1.5)(18.7,0.7)(19.2,-0.1)(19.7,-0.9)(20.2,-1.7)(20.7,-2.5)(21,0.5)(21.5,-0.3)(22,-1.1)(22.5,-1.9)(23,-2.7)(23.3,0)(23.75,-0.6)};
\addplot[cR] coordinates {(0,-1.2)(0.5,-2)(1,-2.8)(1.3,-0.5)(1.8,-1.3)(2.3,-2.1)(2.6,2)(3.1,1.2)(3.6,0.4)(4.1,-0.4)(4.6,-1.2)(4.9,2.5)(5.4,1.7)(5.9,0.9)(6.4,0.1)(6.9,-0.7)(7.2,3)(7.7,2.2)(8.2,1.4)(8.7,0.6)(9.2,-0.2)(9.7,-1)(10,2.8)(10.5,2)(11,1.2)(11.5,0.4)(12,-0.4)(12.5,-1.2)(13,-2)(13.3,1.5)(13.8,0.7)(14.3,-0.1)(14.8,-0.9)(15.3,-1.7)(15.6,2.5)(16.1,1.7)(16.6,0.9)(17.1,0.1)(17.6,-0.7)(18.1,-1.5)(18.6,-2.3)(18.9,0.8)(19.4,0)(19.9,-0.8)(20.4,-1.6)(20.9,-2.4)(21.2,1)(21.7,0.2)(22.2,-0.6)(22.7,-1.4)(23.2,-2.2)(23.75,-3)};
\addplot[cG] coordinates {(0,0.3)(0.5,-0.5)(1,-1.3)(1.5,-2.1)(1.8,1.5)(2.3,0.7)(2.8,-0.1)(3.3,-0.9)(3.6,3.5)(4.1,6)(4.6,5.2)(5.1,4.4)(5.6,3.6)(6.1,2.8)(6.6,2)(7.1,1.2)(7.4,4)(7.9,3.2)(8.4,2.4)(8.9,1.6)(9.4,0.8)(9.9,0)(10.2,2.8)(10.7,2)(11.2,1.2)(11.7,0.4)(12.2,-0.4)(12.7,-1.2)(13,2)(13.5,1.2)(14,0.4)(14.5,-0.4)(15,-1.2)(15.5,-2)(15.8,1)(16.3,0.2)(16.8,-0.6)(17.3,-1.4)(17.8,-2.2)(18.1,-0.5)(18.6,-1.3)(19.1,-2.1)(19.6,-2.9)(20.1,-3.7)(20.4,-0.5)(20.9,-1.3)(21.4,-2.1)(21.9,-2.9)(22.4,-3.7)(22.7,-0.8)(23.2,-1.6)(23.75,-2.4)};
\addplot[cC] coordinates {(0,1)(0.5,0.3)(1,2.5)(1.5,1.7)(2,0.9)(2.5,3)(3,2.2)(3.5,1.4)(4,3.8)(4.5,3)(5,2.2)(5.5,1.4)(6,0.6)(6.3,4)(6.8,3.2)(7.3,2.4)(7.8,1.6)(8.3,0.8)(8.8,0)(9.1,2.5)(9.6,1.7)(10.1,0.9)(10.6,0.1)(11.1,-0.7)(11.6,-1.5)(11.9,1)(12.4,0.2)(12.9,-0.6)(13.4,-1.4)(13.9,-2.2)(14.4,-3)(14.7,0)(15.2,-0.8)(15.7,-1.6)(16.2,-2.4)(16.7,-3.2)(17.2,-4)(17.5,-1)(18,-1.8)(18.5,-2.6)(19,-3.4)(19.5,-4.2)(20,-5)(20.3,-2)(20.8,-2.8)(21.3,-3.6)(21.8,-4.4)(22.3,-5.2)(22.6,-2)(23.1,-2.8)(23.75,-3.6)};
\addplot[cY] coordinates {(0,0.5)(0.5,-0.3)(1,-1.1)(1.3,1.5)(1.8,0.7)(2.3,3)(2.8,2.2)(3.3,1.4)(3.8,0.6)(4.3,-0.2)(4.6,2.5)(5.1,1.7)(5.6,0.9)(6.1,0.1)(6.6,-0.7)(7.1,-1.5)(7.4,1.5)(7.9,0.7)(8.4,-0.1)(8.9,-0.9)(9.4,-1.7)(9.9,-2.5)(10.2,0.5)(10.7,-0.3)(11.2,-1.1)(11.7,-1.9)(12.2,-2.7)(12.7,-3.5)(13,-0.5)(13.5,-1.3)(14,-2.1)(14.5,-2.9)(15,-3.7)(15.5,-4.5)(15.8,-1.5)(16.3,-2.3)(16.8,-3.1)(17.3,-3.9)(17.8,-4.7)(18.3,-5.5)(18.6,-2.5)(19.1,-3.3)(19.6,-4.1)(20.1,-4.9)(20.6,-5.7)(21.1,-6.5)(21.4,-3.5)(21.9,-4.3)(22.4,-5.1)(22.9,-5.9)(23.4,-6.7)(23.75,-7.2)};
\addplot[cDR] coordinates {(0,0)(0.5,1.5)(1,0.7)(1.5,-0.1)(2,2.3)(2.5,1.5)(3,0.7)(3.5,-0.1)(3.8,3)(4.3,2.2)(4.8,5.5)(5.3,4.7)(5.8,3.9)(6.3,3.1)(6.8,2.3)(7.3,1.5)(7.6,4.5)(8.1,3.7)(8.6,2.9)(9.1,2.1)(9.6,1.3)(10.1,0.5)(10.4,3.5)(10.9,2.7)(11.4,1.9)(11.9,1.1)(12.4,0.3)(12.9,-0.5)(13.2,2.5)(13.7,1.7)(14.2,0.9)(14.7,0.1)(15.2,-0.7)(15.7,-1.5)(16,1.5)(16.5,0.7)(17,-0.1)(17.5,-0.9)(18,-1.7)(18.5,-2.5)(18.8,0.5)(19.3,-0.3)(19.8,-1.1)(20.3,-1.9)(20.8,-2.7)(21.3,-3.5)(21.6,-0.5)(22.1,-1.3)(22.6,-2.1)(23.1,-2.9)(23.75,-3.8)};
\addplot[cB] coordinates {(0,-0.5)(0.5,-1.2)(1,-2)(1.3,0.5)(1.8,-0.3)(2.3,-1.1)(2.8,-1.9)(3.1,1.5)(3.6,0.7)(4.1,-0.1)(4.6,-0.9)(5.1,-1.7)(5.4,1)(5.9,0.2)(6.4,-0.6)(6.9,-1.4)(7.4,-2.2)(7.7,1.5)(8.2,0.7)(8.7,-0.1)(9.2,-0.9)(9.7,-1.7)(10.2,-2.5)(10.5,-0.5)(10.8,-1.3)(11.3,-2.1)(11.8,-2.9)(12.3,-3.7)(12.8,-4.5)(13.1,-1)(13.6,-1.8)(14.1,-2.6)(14.6,-3.4)(15.1,-4.2)(15.6,-5)(15.9,-2)(16.4,-2.8)(16.9,-3.6)(17.4,-4.4)(17.9,-5.2)(18.4,-6)(18.7,-3)(19.2,-3.8)(19.7,-4.6)(20.2,-5.4)(20.7,-6.2)(21.2,-7)(21.5,-4)(22,-4.8)(22.5,-5.6)(23,-6.4)(23.5,-7.2)(23.75,-7.5)};
\addplot[cR] coordinates {(0,0)(0.5,-0.8)(1,-1.6)(1.5,-2.4)(2,-3.2)(2.3,-0.2)(2.8,-1)(3.3,-1.8)(3.8,-2.6)(4.3,-3.4)(4.8,-4.2)(5.1,-1)(5.6,-1.8)(6.1,-2.6)(6.6,-3.4)(7.1,-4.2)(7.6,-5)(8.1,-5.8)(8.4,-2.5)(8.9,-3.3)(9.4,-4.1)(9.9,-4.9)(10.4,-5.7)(10.9,-6.5)(11.2,-3.5)(11.7,-4.3)(12.2,-5.1)(12.7,-5.9)(13.2,-6.7)(13.7,-7.5)(14,-4.5)(14.5,-5.3)(15,-6.1)(15.5,-6.9)(16,-7.7)(16.5,-8.5)(16.8,-5)(17.3,-5.8)(17.8,-6.6)(18.3,-7.4)(18.8,-8.2)(19.3,-9)(19.6,-5.5)(20.1,-6.3)(20.6,-7.1)(21.1,-7.9)(21.6,-8.7)(22.1,-9.5)(22.4,-5.5)(22.9,-6.3)(23.4,-7.1)(23.75,-7.7)};
\addplot[cG] coordinates {(0,1.2)(0.5,0.4)(1,-0.4)(1.5,-1.2)(2,-2)(2.5,-2.8)(2.8,0.5)(3.3,-0.3)(3.8,-1.1)(4.3,-1.9)(4.8,-2.7)(5.3,-3.5)(5.6,-0.5)(6.1,-1.3)(6.6,-2.1)(7.1,-2.9)(7.6,-3.7)(8.1,-4.5)(8.4,-1.5)(8.9,-2.3)(9.4,-3.1)(9.9,-3.9)(10.4,-4.7)(10.9,-5.5)(11.4,-6.3)(11.7,-3)(12.2,-3.8)(12.7,-4.6)(13.2,-5.4)(13.7,-6.2)(14.2,-7)(14.5,-3.5)(15,-4.3)(15.5,-5.1)(16,-5.9)(16.5,-6.7)(17,-7.5)(17.5,-8.3)(17.8,-5)(18.3,-5.8)(18.8,-6.6)(19.3,-7.4)(19.8,-8.2)(20.3,-9)(20.6,-6)(21.1,-6.8)(21.6,-7.6)(22.1,-8.4)(22.6,-9.2)(23.1,-10)(23.4,-8.2)(23.75,-8.8)};
% ---------- upper lines ----------
\addplot[cDR] coordinates {(0,8.5)(0.5,7.6)(1,6.4)(1.5,5.5)(1.8,7.5)(2.3,6.5)(3,5.2)(3.5,4.3)(4,3.5)(4.6,2.4)(5,4.5)(5.6,3.4)(6.2,2.3)(7,1)(7.5,0.2)(8,-1)(8.6,-2)(9.2,-1)(10,-2.4)(10.5,-3.3)(11,-4)(11.5,-4.8)(12,-5.5)(12.5,-2)(13,-2.8)(13.5,-3.5)(14,-4.3)(14.5,-5)(15,-5.8)(15.5,-6.6)(16,-7.4)(16.3,-8)(17,-7)(17.5,-7.8)(18,-8.6)(18.5,-9.3)(19,-10)(19.5,-10.7)(20,-11.4)(20.5,-12.1)(21,-12.8)(21.5,-13.4)(22,-10)(22.5,-10.8)(23,-11.6)(23.75,-12.6)};
\addplot[cC] coordinates {(0,6.2)(0.3,6)(0.5,7.3)(0.9,5.9)(1.4,5)(2,3.9)(2.5,3)(3,4.5)(3.6,3.2)(4.2,2)(5,0.5)(5.5,2.5)(6.3,1)(7,-0.5)(7.8,-1.8)(8.5,0.5)(9.3,-1)(10,-2.2)(11,-3.5)(11.5,-1)(12.5,-2.6)(13.5,-4)(14.5,-5.5)(15.3,-4)(16,-5.2)(17,-6.8)(18,-8)(19,-9.5)(20,-11)(21,-12.5)(22,-14)(22.5,-12)(23.75,-13.5)};
\addplot[cC] coordinates {(0,0)(0.5,-0.5)(1,1)(1.5,0.4)(2,2)(2.5,1.3)(3,3.5)(3.5,2.8)(4,2)(4.5,4)(5,3.2)(5.5,5.5)(6,4.8)(6.4,4.5)(6.55,11.5)(6.65,14)(6.75,16)(7.1,15)(7.7,13.3)(8.1,13.7)(8.4,14.2)(8.8,13)(9.2,12.3)(9.6,11.7)(10.6,10.4)(11.3,9.2)(11.9,8.5)(12.7,9.2)(13.4,8.5)(14,8.2)(14.6,7.3)(15.3,6.5)(16,5.2)(16.6,4)(17.2,5.8)(18,4.5)(18.8,3.2)(19.5,2)(20.2,0.7)(21,-0.6)(21.6,1.5)(22.3,0.4)(23,-0.8)(23.75,-2)};
\addplot[cG] coordinates {(0,2)(0.5,1)(1,0.2)(1.5,-0.8)(2,1.5)(2.5,0.6)(3,-0.3)(3.5,-1.2)(4,0.5)(4.5,-0.5)(5,1.5)(5.5,0.6)(6,-0.5)(6.5,-1.4)(7,0.2)(7.5,5.5)(8,6.6)(8.5,5.8)(9,5)(9.5,6.8)(10,6)(10.5,5.2)(11,4.4)(11.5,3.5)(12,5)(12.5,4)(13,3.2)(13.5,5.5)(14,4.6)(14.5,6.5)(15,5.5)(15.5,4.6)(16,6)(16.5,5)(17,4)(17.5,3)(18,4.5)(18.5,3.6)(19,2.6)(19.5,1.8)(20,3.5)(20.5,2.5)(21,1.5)(21.5,3)(22,5.5)(22.5,4.6)(23,6.5)(23.4,9)(23.75,10.5)};
\addplot[cG] coordinates {(0,1)(0.5,0)(1,1.5)(1.5,0.6)(2,2.8)(2.5,2)(3,1.2)(3.5,3.5)(4,2.6)(4.5,1.8)(5,3)(5.5,2.2)(6,4.5)(6.5,3.6)(7,2.8)(7.5,2)(8,3.5)(8.5,2.6)(9,1.8)(9.5,3)(10,5)(10.5,4.1)(11,3.2)(11.3,5.5)(11.5,9.8)(12,9.8)(12.5,10.3)(12.8,11)(12.9,13.7)(13.4,13.3)(14,13.5)(14.5,14.3)(15,14)(15.5,13)(16,12.3)(16.5,12.8)(17,11.6)(17.5,10.8)(18,10)(18.5,11)(19,12)(19.3,11.5)(19.6,14)(20,13.2)(20.5,12.4)(21,13.5)(21.4,17.5)(21.8,21)(22.4,24)(22.8,23)(23.2,21.8)(23.6,23)(23.75,23.2)};
\addplot[cM] coordinates {(0,-1)(0.5,-0.2)(1,-1.3)(1.5,0.5)(2,-0.5)(2.5,-1.5)(3,0)(3.5,-1)(4,1.2)(4.5,0.4)(5,-0.6)(5.5,1.5)(6,0.8)(6.5,2.8)(7,2)(7.5,1.2)(8,3.6)(8.5,5)(8.8,12)(9,16)(9.2,15.2)(9.9,14)(10.6,12.3)(11.3,10.4)(11.8,9.8)(12.3,8.5)(12.8,7.4)(13.3,6.5)(13.8,7.5)(14.4,6.2)(15,5)(15.6,3.8)(16.2,2.6)(16.8,3.8)(17.4,2.5)(18,1.2)(18.6,2.8)(19.2,1.6)(19.8,0.4)(20.4,-0.8)(21,0.5)(21.6,-0.6)(22.2,-1.8)(22.8,-0.5)(23.4,-1.6)(23.75,-2.2)};
\addplot[cLB] coordinates {(0,-0.5)(0.5,0.8)(1,0)(1.5,-1)(2,0.5)(2.5,-0.4)(3,1)(3.5,3.8)(4,3)(4.5,2.2)(5,3.5)(5.5,2.5)(6,1.6)(6.5,3)(7,2.1)(7.5,4.5)(8,3.5)(8.3,6)(8.65,11.7)(8.8,15.6)(9.1,16.6)(9.6,16.6)(10,16)(10.5,15)(10.9,13.7)(11.3,13)(11.8,11.8)(12.3,10.6)(12.7,9)(13.2,9.7)(13.7,8.6)(14.3,7.5)(14.7,8.3)(15.3,7)(16,5.8)(16.5,7.5)(17,6.2)(17.6,5)(18.2,3.8)(18.8,5.5)(19.4,4.2)(20,3)(20.6,4)(21.2,2.8)(21.8,1.6)(22.4,3)(23,2)(23.75,0.8)};
\addplot[cLB] coordinates {(0,0)(0.5,1.5)(1,0.6)(1.5,2.4)(2,1.5)(2.5,3.2)(3,2.4)(3.5,4)(4,3)(4.4,7.2)(4.5,9.8)(4.85,11.1)(5.2,10.1)(5.6,10.8)(6,10.3)(6.5,10.1)(7,9.4)(7.5,8.7)(8,8)(8.5,8.5)(9,7.8)(9.5,7)(10,8)(10.5,7.2)(11,6.4)(11.5,7.5)(12,6.6)(12.5,7.8)(13,9.5)(13.2,14)(13.4,21.4)(13.8,20.8)(14.2,19.8)(14.6,19)(14.9,18)(15,22.7)(15.2,27.2)(15.6,26.6)(15.8,27.2)(16.1,27.2)(16.5,27)(16.8,27.6)(17.3,26.8)(17.8,25.2)(18.5,23.3)(19.1,20.8)(19.4,19.5)(19.9,20.3)(20.4,19)(21,17.6)(21.5,16.5)(22,17.3)(22.6,16)(23.2,14.8)(23.75,14)};
\addplot[cB] coordinates {(0,1)(0.5,0.2)(1,1.8)(1.5,1)(2,0.3)(2.5,2)(3,1)(3.5,0.2)(4,-0.8)(4.5,1)(5,0)(5.5,-1)(6,0.5)(6.5,-0.6)(7,-1.6)(7.5,0)(8,-1)(8.5,-2.2)(9,-1.5)(9.5,-2.6)(10,-0.5)(10.5,-1.6)(11,-2.4)(11.5,-1)(12,-2)(12.5,-3)(13,-1)(13.5,1.5)(14,0.5)(14.5,-0.5)(15,1)(15.5,0.2)(16,-0.8)(16.4,2)(16.8,8)(17.1,14)(17.4,17)(17.8,17.2)(18.2,17)(18.5,15.6)(19,14.2)(19.3,12.8)(19.9,11.1)(20.5,10)(21,12)(21.3,13.7)(21.45,21.4)(21.7,20.5)(22.2,19)(22.6,18)(22.9,16.5)(23.2,15.4)(23.6,16.5)(23.75,15)};
\addplot[cDB] coordinates {(0,-0.5)(0.5,-1.2)(1,-0.4)(1.5,-1.5)(2,-2.3)(2.5,-1)(3,-2)(3.5,-3)(4,-1.5)(4.5,-2.5)(5,-3.4)(5.5,-2)(6,-3.2)(6.5,-4)(7,-2.5)(7.5,-3.5)(8,-4.6)(8.5,-3)(9,-4.2)(9.5,-5)(10,-3.5)(10.5,-4.6)(11,-5.5)(11.5,-4)(12,-5.2)(12.5,-1.5)(13,-2.6)(13.5,-3.5)(14,-1)(14.5,-2)(15,2)(15.5,1)(16,0.2)(16.5,3)(17,5.5)(17.5,4.8)(18,8)(18.5,11.5)(19,13)(19.5,12)(20,14)(20.2,20)(20.4,26.6)(20.8,25.5)(21.4,23.9)(21.7,22.8)(22.3,22)(22.9,21.4)(23.1,22.4)(23.5,20.8)(23.75,20)};
\addplot[cM] coordinates {(0,0.5)(0.5,-0.3)(1,0.8)(1.5,0)(2,1.8)(2.5,1)(3,2.5)(3.5,1.8)(4,3)(4.5,2.3)(5,3.5)(5.25,9.8)(5.35,14)(5.5,15)(5.9,14.6)(6.1,14.3)(6.5,13)(6.9,12.1)(7.3,11.5)(7.8,10.5)(8.3,9.5)(8.8,10.2)(9.3,9.2)(10,8)(10.6,7)(11.2,7.6)(11.8,8.3)(12.4,8.5)(12.8,9.8)(13.1,13)(13.4,12.6)(13.8,11.7)(14.5,10.4)(15.3,9.8)(15.6,12.3)(15.8,15)(16.1,14.5)(16.3,17)(16.6,18.8)(16.9,19.2)(17.1,17.8)(17.5,16.2)(17.9,16.8)(18.5,18)(19,17.5)(19.2,18.8)(19.4,23.1)(23.75,23.1)};
\addplot[cDR] coordinates {(0,1.5)(0.4,0.5)(0.8,3)(1.2,2)(1.6,4.5)(2,3.5)(2.5,5.5)(3,4.5)(3.4,6.5)(3.9,5.8)(4.5,6.8)(5,6)(5.5,7.2)(6,6.5)(6.6,7.6)(7.2,7)(7.8,7.4)(8.3,6.6)(8.6,6.9)(9,9.8)(9.2,15.6)(9.4,19.4)(9.6,19)(9.9,18.5)(10.1,20)(10.4,27.2)(10.7,27.8)(11,26.8)(11.4,26.2)(11.9,25.2)(12.3,24.6)(12.7,25.2)(13.1,23.9)(13.7,22.4)(14,21)(14.4,20.8)(14.9,20.4)(15.2,21.4)(15.4,21.7)(15.7,24.6)(16,24.8)(16.6,23.3)(17.2,21.2)(17.9,18.8)(18.5,17.5)(19.1,16)(19.5,15.5)(19.9,18.5)(20.2,20)(20.7,18.8)(21.3,17.5)(21.8,16.2)(22.3,14.6)(22.7,13)(23.2,13.6)(23.75,12.3)};
\addplot[cG] coordinates {(0,4)(0.5,4.3)(0.8,3.6)(1.05,4)(1.25,15.6)(1.6,14.5)(2,13.3)(2.2,14.3)(2.5,13.3)(2.75,15.6)(2.95,20.8)(3.3,20)(3.55,18.9)(3.8,18.6)(4.1,17.5)(4.65,15.6)(5,14.6)(5.35,15.6)(5.6,15.2)(6.05,15)(6.25,19)(6.6,18.8)(7,20)(7.4,18.9)(7.95,17.2)(8.2,19.6)(8.6,19.5)(8.9,18.8)(9.2,19.6)(9.6,19.2)(10,18.6)(10.15,22)(10.7,22.7)(11.4,22.3)(11.6,21.4)(11.9,23.5)(12.3,23)(12.7,22)(13.4,20.8)(13.9,19.8)(14.6,18.5)(15.4,17.5)(15.9,16.9)(16.1,19)(16.3,22)(16.6,23)(17.1,24.2)(17.5,24.8)(18.2,23.5)(18.7,23.9)(19.1,25.8)(19.4,26.8)(19.9,25.8)(20.3,24.6)(20.8,23.3)(21.3,22)(21.8,20.8)(22.3,19.4)(22.9,18.1)(23.75,17.5)};
\addplot[black] coordinates {(0,0)(0.25,1)(0.75,2.5)(1.7,2.6)(2.1,1.7)(3.2,1.7)(3.7,2.5)(3.9,4.3)(4.05,9)(4.2,14)(4.6,15.2)(5,14.3)(5.3,14.2)(5.6,13.7)(6,12.9)(6.3,12.3)(6.9,11.7)(7.1,11.1)(7.4,13)(7.6,12.6)(8.1,11.2)(8.4,13.7)(8.7,13.6)(9,13.2)(9.2,12.8)(9.5,12)(9.7,14.3)(9.9,14)(10.05,16)(10.2,22)(10.4,21.3)(11,19.8)(11.4,18.8)(12,19)(12.3,18.1)(12.7,16.2)(13,16.5)(13.4,17.9)(13.7,17.5)(14,17.9)(14.2,16.2)(14.5,14.6)(14.8,14.3)(15,14.6)(15.35,14)(15.45,18.2)(15.6,20.8)(15.9,20.4)(16,23)(16.3,24.6)(16.6,24)(16.9,23)(17.1,25.2)(17.4,24.6)(17.7,26.2)(18.1,25.8)(18.5,25.8)(18.7,25.2)(19,26.2)(19.2,25.2)(19.3,29.7)(19.4,36.5)(19.7,40.7)(20,39.7)(20.4,40.1)(20.8,38.2)(21.4,36.7)(21.6,37)(21.9,38.6)(22.2,37.8)(22.7,37)(23,39)(23.3,38.2)(23.75,38)};
\end{axis}
\end{tikzpicture}
\end{document}
